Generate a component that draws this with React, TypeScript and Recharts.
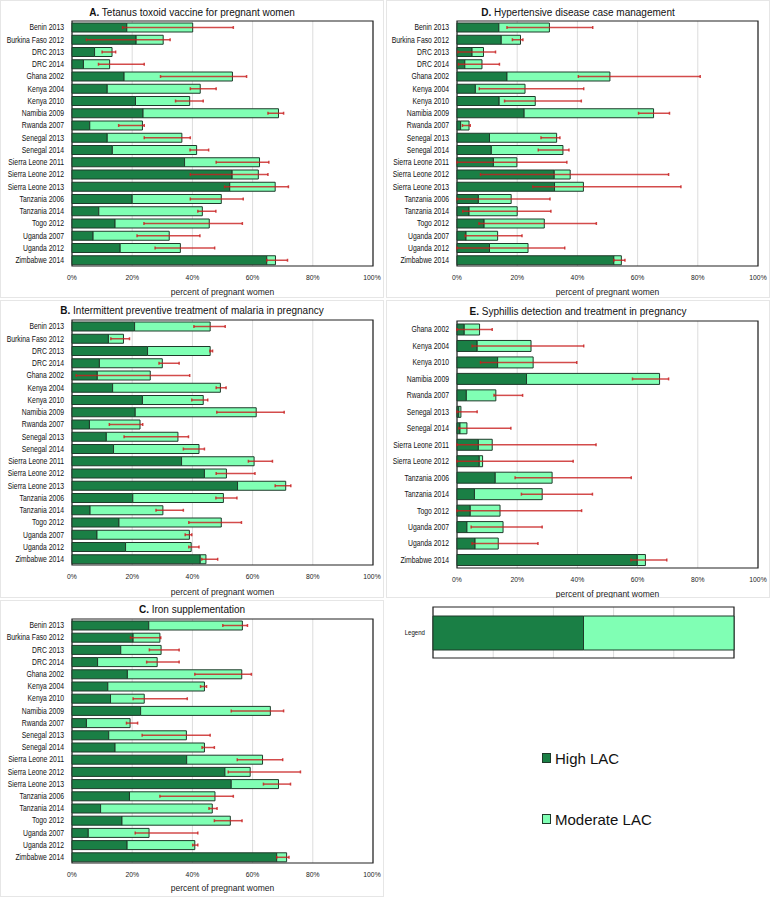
import React from 'react';
import { BarChart, Bar, XAxis, YAxis, CartesianGrid, ErrorBar, ReferenceArea, Legend } from 'recharts';

const FONT = "'Liberation Sans', Arial, sans-serif";
const DARK = '#1a7f45';
const LIGHT = '#80ffb4';
const EDGE = '#1f3a2a';
const ERR = '#c81e1e';

const xTicks = [0, 20, 40, 60, 80, 100];

const catsMain = ['Benin 2013', 'Burkina Faso 2012', 'DRC 2013', 'DRC 2014', 'Ghana 2002', 'Kenya 2004', 'Kenya 2010', 'Namibia 2009', 'Rwanda 2007', 'Senegal 2013', 'Senegal 2014', 'Sierra Leone 2011', 'Sierra Leone 2012', 'Sierra Leone 2013', 'Tanzania 2006', 'Tanzania 2014', 'Togo 2012', 'Uganda 2007', 'Uganda 2012', 'Zimbabwe 2014'];
const catsSyph = ['Ghana 2002', 'Kenya 2004', 'Kenya 2010', 'Namibia 2009', 'Rwanda 2007', 'Senegal 2013', 'Senegal 2014', 'Sierra Leone 2011', 'Sierra Leone 2012', 'Tanzania 2006', 'Tanzania 2014', 'Togo 2012', 'Uganda 2007', 'Uganda 2012', 'Zimbabwe 2014'];

// A. Tetanus toxoid
const highA = [18.2, 21.3, 7.5, 3.8, 17.3, 11.7, 21.1, 23.6, 5.9, 11.7, 13.4, 37.4, 53.2, 52.4, 20.0, 8.9, 14.3, 7.0, 16.0, 64.7];
const totalA = [40.1, 30.3, 13.3, 12.5, 53.3, 42.6, 39.1, 68.6, 23.4, 36.5, 41.4, 62.3, 61.9, 67.5, 49.6, 43.3, 45.6, 32.3, 36.0, 67.6];
const loA = [16.8, 4.8, 10.0, 8.8, 29.4, 39.3, 34.4, 65.1, 15.5, 24.0, 39.2, 47.9, 39.3, 50.7, 39.3, 41.8, 23.9, 21.6, 27.6, 64.7];
const hiA = [53.6, 32.6, 14.5, 24.0, 58.0, 47.9, 43.6, 70.3, 24.0, 39.3, 45.4, 65.4, 65.1, 71.9, 56.9, 47.8, 56.6, 42.5, 47.4, 71.6];

// B. IPTp
const highB = [20.8, 12.1, 25.1, 9.1, 8.4, 13.5, 23.4, 21.0, 5.8, 11.4, 13.8, 36.4, 44.0, 55.0, 20.2, 6.0, 15.6, 8.3, 17.8, 42.6];
const totalB = [45.9, 17.1, 45.9, 30.0, 26.0, 49.3, 43.6, 61.2, 22.6, 35.2, 42.2, 60.5, 51.3, 71.0, 50.3, 30.2, 49.6, 39.0, 39.6, 44.5];
const loB = [40.5, 12.9, 45.8, 28.9, 1.4, 47.9, 39.8, 48.1, 12.4, 17.3, 37.0, 58.6, 47.9, 67.5, 47.8, 27.9, 38.8, 37.6, 38.8, 43.1];
const hiB = [50.9, 19.1, 46.7, 35.6, 39.1, 51.2, 45.1, 70.5, 23.5, 38.7, 44.0, 66.6, 60.8, 72.7, 54.8, 37.0, 56.3, 39.8, 42.2, 48.4];

// C. Iron supplementation
const highC = [25.5, 20.3, 16.2, 8.5, 18.4, 11.9, 12.8, 22.8, 4.8, 12.2, 14.3, 38.1, 50.8, 52.9, 19.1, 9.5, 16.6, 5.4, 18.3, 68.0];
const totalC = [56.6, 29.2, 29.6, 28.3, 56.4, 44.0, 24.0, 65.9, 19.3, 38.0, 44.0, 63.3, 59.2, 68.6, 47.5, 46.6, 52.6, 25.6, 40.8, 71.3];
const loC = [50.1, 19.4, 25.7, 24.8, 40.8, 42.7, 20.3, 52.9, 18.1, 23.3, 43.2, 54.9, 51.9, 63.6, 29.2, 45.5, 47.3, 21.0, 40.1, 68.0];
const hiC = [58.3, 29.5, 35.6, 35.6, 59.6, 44.7, 38.3, 70.3, 21.8, 45.9, 47.3, 70.0, 75.9, 72.6, 53.6, 48.2, 56.5, 41.8, 41.8, 72.1];

// D. Hypertensive disease
const highD = [13.9, 14.7, 5.0, 2.6, 16.6, 6.1, 14.0, 22.3, 1.2, 10.8, 11.4, 12.1, 32.3, 32.4, 7.1, 4.0, 9.0, 3.0, 10.8, 52.1];
const totalD = [30.7, 21.1, 8.8, 8.3, 50.8, 22.6, 26.0, 65.3, 4.0, 33.1, 35.2, 19.9, 37.6, 42.0, 18.0, 20.0, 29.0, 13.5, 23.6, 54.6];
const loD = [16.6, 18.4, 0.3, 0.5, 40.3, 7.4, 15.8, 60.3, 1.8, 27.9, 27.0, 0, 7.8, 25.2, 0, 1.9, 7.3, 2.7, 0, 52.1];
const hiD = [45.1, 21.9, 12.8, 14.1, 80.8, 42.1, 41.3, 70.6, 4.4, 34.2, 37.2, 36.5, 70.3, 74.4, 30.9, 31.2, 46.3, 21.6, 35.8, 55.8];

// E. Syphilis
const highE = [2.4, 6.7, 13.5, 23.1, 3.1, 0.6, 1.0, 7.1, 7.4, 12.7, 5.8, 4.4, 3.3, 6.0, 59.9];
const totalE = [7.5, 24.6, 25.3, 67.3, 12.9, 1.3, 3.3, 11.7, 8.5, 31.6, 28.3, 14.3, 15.3, 13.7, 62.6];
const loE = [0, 5.0, 7.8, 58.3, 12.3, 0, 0.6, 0, 0, 19.3, 21.4, 0, 4.7, 5.0, 57.8];
const hiE = [11.7, 42.1, 39.8, 70.3, 21.8, 6.7, 17.9, 46.2, 38.6, 57.9, 45.0, 41.4, 28.3, 26.9, 69.7];

// Legend example bar
const legendCats = ['Legend'];
const legendHigh = [50];
const legendTotal = [100];

const buildRows = (cats: string[], high: number[], total: number[], lo?: number[], hi?: number[]) =>
  cats.map((c, i) => ({
    name: c,
    high: high[i],
    moderate: +(total[i] - high[i]).toFixed(2),
    err: lo && hi ? [+(total[i] - lo[i]).toFixed(2), +(hi[i] - total[i]).toFixed(2)] : [0, 0],
  }));

const CatTick = (props: any) => {
  const { x, y, payload, size = 9 } = props;
  return (
    <g transform={`translate(${x},${y})`}>
      <text transform="scale(0.76,1)" textAnchor="end" dy="0.35em" fontSize={size} fill="#111" fontFamily={FONT}>
        {payload.value}
      </text>
    </g>
  );
};

const PctTick = (props: any) => {
  const { x, y, payload } = props;
  return (
    <g transform={`translate(${x},${y})`}>
      <text transform="scale(0.85,1)" textAnchor="middle" dy="0.71em" fontSize={8} fill="#222" fontFamily={FONT}>
        {payload.value + '%'}
      </text>
    </g>
  );
};

type PanelProps = {
  letter: string; title: string; rows: any[];
  left: number; top: number; width: number; height: number;
  plot: { x0: number; y0: number; x1: number; y1: number };
  barSize: number; labelOffset: number; titleY: number;
};

function Panel({ letter, title, rows, left, top, width, height, plot, barSize, labelOffset, titleY }: PanelProps) {
  const mTop = plot.y0 - top;
  const xH = top + height - plot.y1;
  const yW = plot.x0 - left;
  const mRight = left + width - plot.x1;
  return (
    <div style={{ position: 'absolute', left, top, width, height, outline: '1px solid #e6e6e6', outlineOffset: -1, background: '#fff' }}>
      <div style={{ position: 'absolute', left: 0, width, top: titleY - top - 7, lineHeight: '14px', textAlign: 'center', fontSize: 10, fontFamily: FONT, color: '#111', whiteSpace: 'nowrap' }}>
        <b>{letter}</b> {title}
      </div>
      <BarChart width={width} height={height} data={rows} layout="vertical" margin={{ top: mTop, right: mRight, bottom: 0, left: 0 }}>
        <CartesianGrid horizontal={false} stroke="#dcdcdc" />
        <XAxis type="number" domain={[0, 100]} ticks={xTicks} axisLine={false} tickLine={false} height={xH}
          tick={<PctTick />}
          label={{ value: 'percent of pregnant women', position: 'insideBottom', offset: labelOffset, fontSize: 8.5, fill: '#222', fontFamily: FONT }} />
        <YAxis type="category" dataKey="name" width={yW} axisLine={false} tickLine={false} interval={0}
          tick={<CatTick />} />
        <Bar dataKey="high" name="High LAC" stackId="s" fill={DARK} stroke={EDGE} strokeWidth={1} barSize={barSize} isAnimationActive={false} />
        <Bar dataKey="moderate" name="Moderate LAC" stackId="s" fill={LIGHT} stroke={EDGE} strokeWidth={1} barSize={barSize} isAnimationActive={false}>
          <ErrorBar dataKey="err" direction="x" width={1.5} stroke={ERR} strokeWidth={1.5} strokeOpacity={0.8} isAnimationActive={false} />
        </Bar>
        <ReferenceArea x1={0} x2={100} fill="none" stroke="#222" strokeWidth={1.2} ifOverflow="visible" />
      </BarChart>
    </div>
  );
}

const renderLegend = (props: any) => (
  <div style={{ fontFamily: FONT }}>
    {(props.payload || []).map((p: any, i: number) => (
      <div key={i} style={{ display: 'flex', alignItems: 'center', height: 20, marginBottom: i === 0 ? 41 : 0, fontSize: 15, color: '#111', whiteSpace: 'nowrap' }}>
        <span style={{ width: 7, height: 8, background: p.color, border: '1px solid #1f3a2a', marginRight: 4, display: 'inline-block' }} />
        {p.value}
      </div>
    ))}
  </div>
);

export default function App() {
  const rowsA = buildRows(catsMain, highA, totalA, loA, hiA);
  const rowsB = buildRows(catsMain, highB, totalB, loB, hiB);
  const rowsC = buildRows(catsMain, highC, totalC, loC, hiC);
  const rowsD = buildRows(catsMain, highD, totalD, loD, hiD);
  const rowsE = buildRows(catsSyph, highE, totalE, loE, hiE);
  const rowsL = buildRows(legendCats, legendHigh, legendTotal);
  return (
    <div style={{ position: 'absolute', left: 0, top: 0, width: 770, height: 898, background: '#fff', overflow: 'hidden' }}>
      <Panel letter="A." title="Tetanus toxoid vaccine for pregnant women" rows={rowsA}
        left={0} top={0} width={384} height={298} plot={{ x0: 72, y0: 21, x1: 373, y1: 266 }} barSize={9} labelOffset={3} titleY={13} />
      <Panel letter="D." title="Hypertensive disease case management" rows={rowsD}
        left={386} top={0} width={384} height={298} plot={{ x0: 457, y0: 21, x1: 758, y1: 266 }} barSize={9} labelOffset={3} titleY={13} />
      <Panel letter="B." title="Intermittent preventive treatment of malaria in pregnancy" rows={rowsB}
        left={0} top={300} width={384} height={298} plot={{ x0: 72, y0: 320, x1: 373, y1: 565 }} barSize={9} labelOffset={3} titleY={311} />
      <Panel letter="E." title="Syphillis detection and treatment in pregnancy" rows={rowsE}
        left={386} top={300} width={384} height={298} plot={{ x0: 457, y0: 321, x1: 758, y1: 568 }} barSize={11} labelOffset={1} titleY={312} />
      <Panel letter="C." title="Iron supplementation" rows={rowsC}
        left={0} top={600} width={384} height={297} plot={{ x0: 72, y0: 619, x1: 373, y1: 863 }} barSize={9} labelOffset={6} titleY={610} />
      <div style={{ position: 'absolute', left: 386, top: 600, width: 384, height: 298, background: '#fff' }}>
        <BarChart width={384} height={298} data={rowsL} layout="vertical" margin={{ top: 7, right: 36, bottom: 240, left: 0 }}>
          <CartesianGrid horizontal={false} stroke="#dcdcdc" />
          <XAxis type="number" domain={[0, 100]} ticks={xTicks} hide />
          <YAxis type="category" dataKey="name" width={47} axisLine={false} tickLine={false} tick={<CatTick size={8} />} />
          <Bar dataKey="high" name="High LAC" stackId="s" fill={DARK} stroke={EDGE} strokeWidth={1} barSize={34} isAnimationActive={false} />
          <Bar dataKey="moderate" name="Moderate LAC" stackId="s" fill={LIGHT} stroke={EDGE} strokeWidth={1} barSize={34} isAnimationActive={false} />
          <ReferenceArea x1={0} x2={100} fill="none" stroke="#222" strokeWidth={1.2} ifOverflow="visible" />
          <Legend layout="vertical" align="center" verticalAlign="middle" content={renderLegend}
            wrapperStyle={{ left: 156, top: 148, width: 'auto', height: 'auto' }} />
        </BarChart>
      </div>
    </div>
  );
}
